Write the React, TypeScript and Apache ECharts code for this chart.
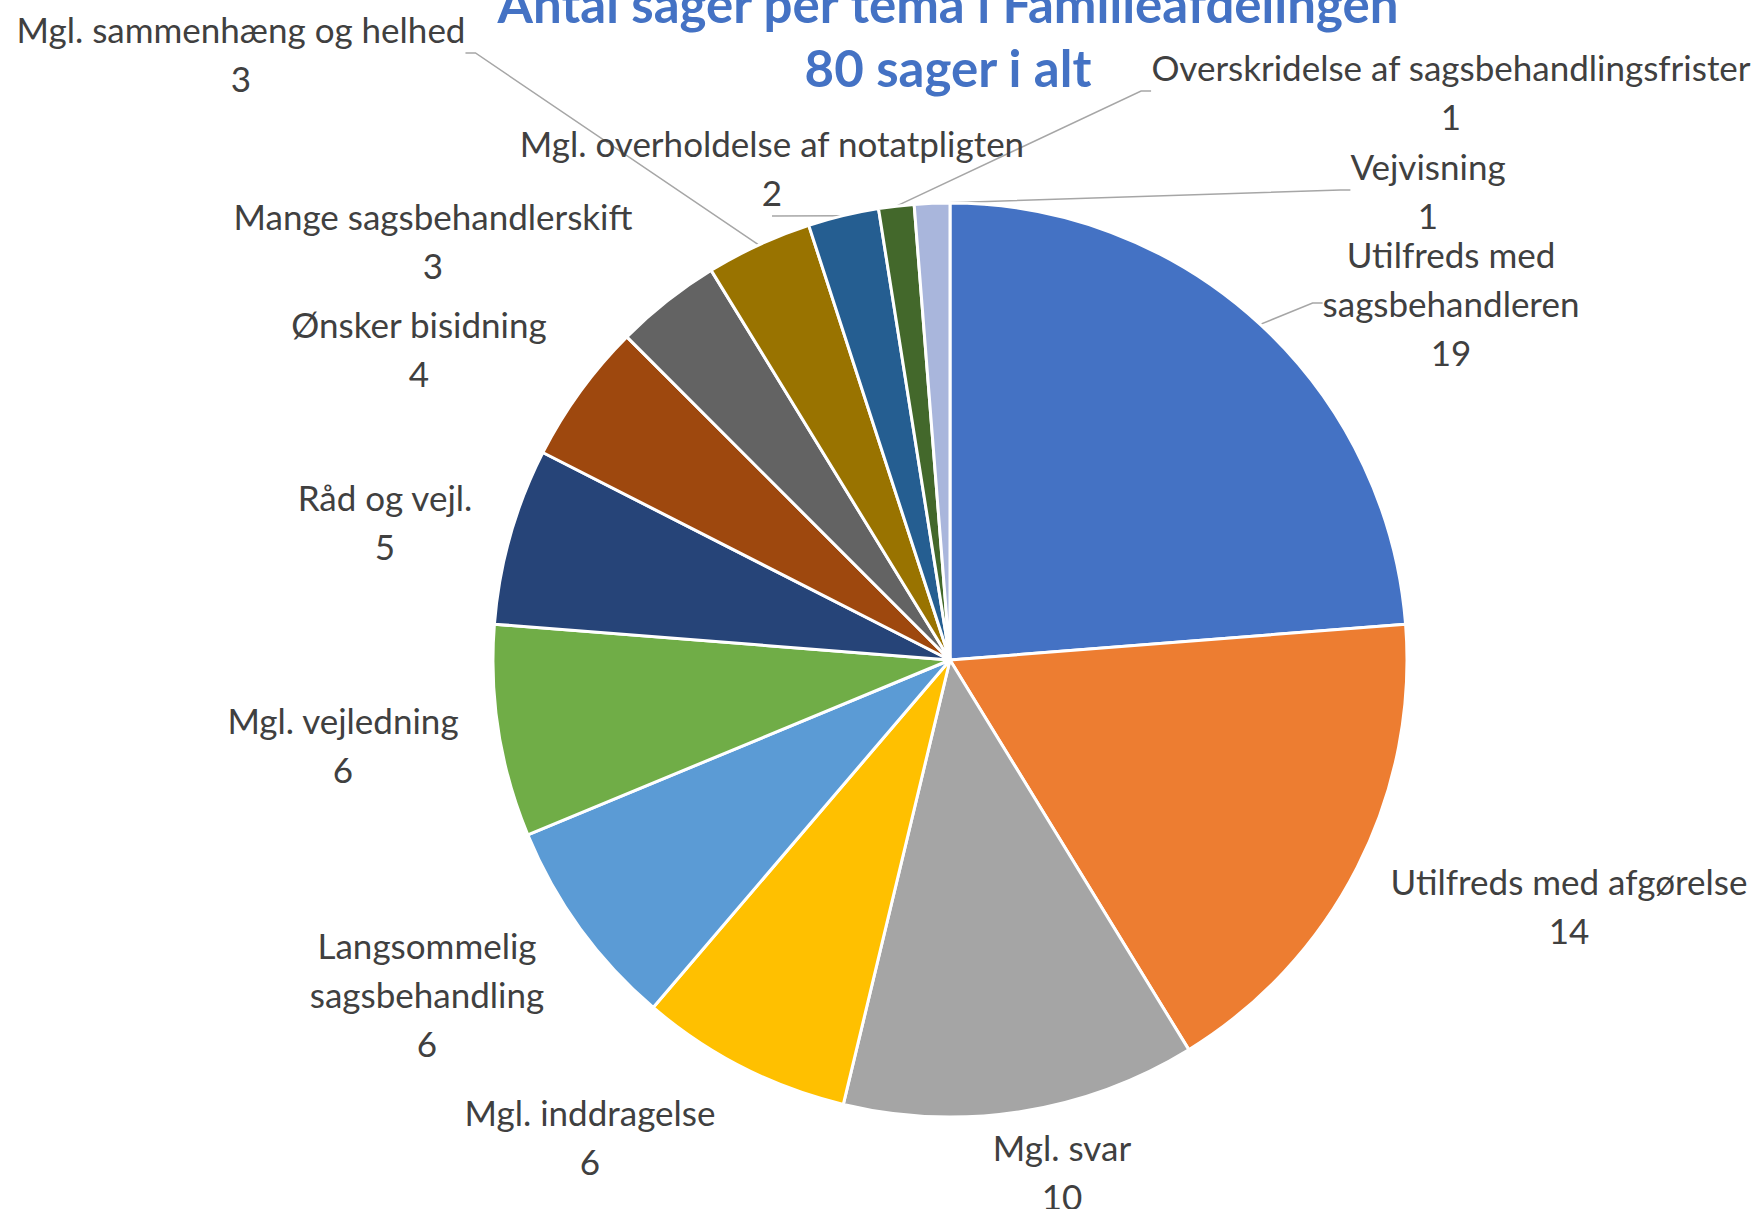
import React, { useEffect, useRef } from "react";
import * as echarts from "echarts";

const titleLines = ["Antal sager per tema i Familieafdelingen", "80 sager i alt"];

const categories = [
  "Utilfreds med sagsbehandleren",
  "Utilfreds med afgørelse",
  "Mgl. svar",
  "Mgl. inddragelse",
  "Langsommelig sagsbehandling",
  "Mgl. vejledning",
  "Råd og vejl.",
  "Ønsker bisidning",
  "Mange sagsbehandlerskift",
  "Mgl. sammenhæng og helhed",
  "Mgl. overholdelse af notatpligten",
  "Overskridelse af sagsbehandlingsfrister",
  "Vejvisning",
];

const values = [19, 14, 10, 6, 6, 6, 5, 4, 3, 3, 2, 1, 1];

const colors = [
  "#4472C4", "#ED7D31", "#A5A5A5", "#FFC000", "#5B9BD5", "#70AD47",
  "#264478", "#9E480E", "#636363", "#997300", "#255E91", "#43682B", "#A9B6DC",
];

// label display text (wrapped) and layout
const wrappedNames: Record<string, string> = {
  "Utilfreds med sagsbehandleren": "Utilfreds med\nsagsbehandleren",
  "Langsommelig sagsbehandling": "Langsommelig\nsagsbehandling",
};
const labelCenters: [number, number][] = [
  [1451, 303],
  [1569, 905],
  [1062, 1171],
  [590, 1136],
  [427, 994],
  [343, 744],
  [385, 521],
  [419, 348],
  [433, 240],
  [241, 53],
  [772, 167],
  [1451, 91],
  [1428, 190],
];
const withLine = [true, false, false, false, false, false, false, false, false, true, true, true, true];

export default function App() {
  const ref = useRef<HTMLDivElement>(null);
  useEffect(() => {
    if (!ref.current) return;
    const chart = echarts.init(ref.current, undefined, { renderer: "svg" });
    const font = "Lato, 'Noto Sans', sans-serif";
    chart.setOption({
      animation: false,
      backgroundColor: "#ffffff",
      graphic: [
        {
          type: "text",
          x: 948,
          y: 3,
          style: {
            text: titleLines[0],
            fill: "#4472C4",
            font: `bold 51px ${font}`,
            align: "center",
            verticalAlign: "middle",
            textAlign: "center",
            textVerticalAlign: "middle",
          },
        },
        {
          type: "text",
          x: 948,
          y: 67,
          style: {
            text: titleLines[1],
            fill: "#4472C4",
            font: `bold 51px ${font}`,
            align: "center",
            verticalAlign: "middle",
            textAlign: "center",
            textVerticalAlign: "middle",
          },
        },
      ],
      series: [
        {
          type: "pie",
          center: [950, 660],
          radius: 457,
          startAngle: 90,
          clockwise: true,
          avoidLabelOverlap: false,
          itemStyle: { borderColor: "#ffffff", borderWidth: 3 },
          label: {
            show: true,
            position: "outside",
            color: "#404040",
            fontFamily: font,
            fontSize: 35,
            lineHeight: 49,
            align: "center",
            formatter: (p: any) => `${wrappedNames[p.name] ?? p.name}\n${p.value}`,
          },
          labelLine: {
            show: false,
            lineStyle: { color: "#A6A6A6", width: 1.5 },
            length: 10,
            length2: 10,
          },
          labelLayout: (p: any) => {
            const c = labelCenters[p.dataIndex];
            return { x: c[0], y: c[1], align: "center", verticalAlign: "middle" };
          },
          data: categories.map((name, i) => ({
            name,
            value: values[i],
            itemStyle: { color: colors[i] },
            labelLine: { show: withLine[i] },
          })),
        },
      ],
    });
    return () => chart.dispose();
  }, []);
  return (
    <div
      ref={ref}
      style={{ position: "absolute", left: 0, top: 0, width: 1760, height: 1209 }}
    />
  );
}
